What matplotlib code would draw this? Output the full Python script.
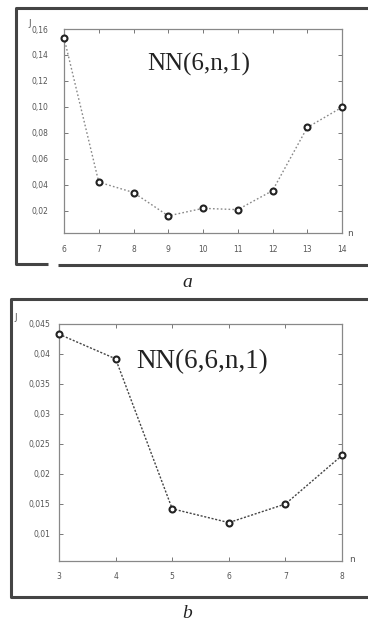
import matplotlib
matplotlib.use("Agg")
import matplotlib.pyplot as plt
from matplotlib.lines import Line2D

# ---- data ----
n_a = [6, 7, 8, 9, 10, 11, 12, 13, 14]
J_a = [0.1533, 0.042, 0.034, 0.016, 0.0218, 0.0208, 0.0354, 0.0841, 0.0997]
yticks_a = [0.02, 0.04, 0.06, 0.08, 0.10, 0.12, 0.14, 0.16]
yticklabels_a = ["0,02", "0,04", "0,06", "0,08", "0,10", "0,12", "0,14", "0,16"]
title_a = "NN(6,n,1)"

n_b = [3, 4, 5, 6, 7, 8]
J_b = [0.0433, 0.0392, 0.0142, 0.0119, 0.0150, 0.0231]
yticks_b = [0.01, 0.015, 0.02, 0.025, 0.03, 0.035, 0.04, 0.045]
yticklabels_b = ["0,01", "0,015", "0,02", "0,025", "0,03", "0,035", "0,04", "0,045"]
title_b = "NN(6,6,n,1)"

W, H = 368, 627
fig = plt.figure(figsize=(W / 100, H / 100), dpi=100)
fig.patch.set_facecolor("white")


def px(x, y):
    return x / W, 1 - y / H


def frame_line(xs, ys, lw=2.2, color="#444444"):
    fx = [x / W for x in xs]
    fy = [1 - y / H for y in ys]
    fig.add_artist(Line2D(fx, fy, lw=lw, color=color, transform=fig.transFigure,
                          solid_capstyle="butt"))


def make_axes(rect, xs, ys, xlim, ylim, yticks, ylabels, title, title_pos, tsize,
              ypad, xpad, lcolor, lstyle):
    ax = fig.add_axes(rect)
    ax.plot(xs, ys, linestyle=lstyle, color=lcolor, lw=1.0, zorder=2)
    ax.plot(xs, ys, linestyle="none", marker="o", markersize=4.3,
            markerfacecolor="white", markeredgecolor="#222222",
            markeredgewidth=1.5, zorder=3, clip_on=False)
    ax.set_xlim(*xlim)
    ax.set_ylim(*ylim)
    ax.set_xticks(xs)
    ax.set_xticklabels([str(v) for v in xs])
    ax.set_yticks(yticks)
    ax.set_yticklabels(ylabels)
    ax.tick_params(direction="in", length=3, width=0.7, color="#777777",
                   labelsize=5.5, labelcolor="#555555",
                   top=True, right=True)
    ax.tick_params(axis="y", pad=ypad)
    ax.tick_params(axis="x", pad=xpad)
    for s in ax.spines.values():
        s.set_color("#888888")
        s.set_linewidth(0.9)
    ax.text(title_pos[0], title_pos[1], title, transform=ax.transAxes,
            ha="center", va="center", fontsize=tsize, family="Liberation Serif",
            color="#222222")
    return ax


# panel a
ax_a = make_axes([64 / W, 1 - 233 / H, (342 - 64) / W, (233 - 29) / H],
                 n_a, J_a, (6, 14), (0.0028, 0.16), yticks_a, yticklabels_a,
                 title_a, (0.486, 0.824), 18, 11, 9, "#888888", (0, (1.2, 1.6)))
# panel b
ax_b = make_axes([59 / W, 1 - 561 / H, (342 - 59) / W, (561 - 324) / H],
                 n_b, J_b, (3, 8), (0.0055, 0.045), yticks_b, yticklabels_b,
                 title_b, (0.505, 0.840), 19.5, 6, 8, "#444444", (0, (1.5, 1.2)))

# axis letters
fig.text(*px(30, 23), "J", fontsize=6.5, color="#555555", ha="center", va="center")
fig.text(*px(350, 233), "n", fontsize=6.5, color="#555555", ha="center", va="center")
fig.text(*px(16, 317), "J", fontsize=6.5, color="#555555", ha="center", va="center")
fig.text(*px(352, 559), "n", fontsize=6.5, color="#555555", ha="center", va="center")

# outer frames
frame_line([370, 16, 16, 48], [8, 8, 264, 264])
frame_line([58, 370], [265, 265])
frame_line([370, 11, 11, 370], [299, 299, 597, 597])

# panel letters
fig.text(*px(187, 283), "a", fontsize=14, family="Liberation Serif", style="italic",
         ha="center", va="center", color="#222222")
fig.text(*px(187, 613), "b", fontsize=14, family="Liberation Serif", style="italic",
         ha="center", va="center", color="#222222")

fig.savefig("out.png", dpi=100, facecolor="white")
